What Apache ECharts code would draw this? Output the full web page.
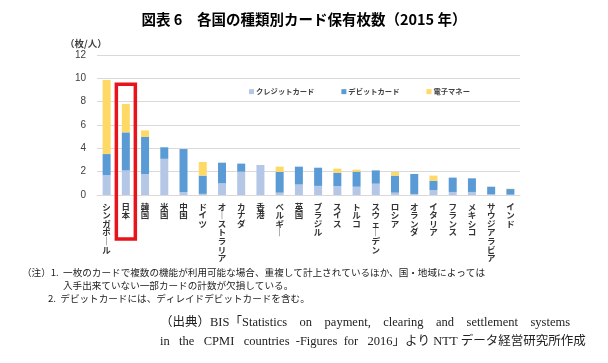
<!DOCTYPE html>
<html><head><meta charset="utf-8">
<script src="https://cdn.jsdelivr.net/npm/echarts@6/dist/echarts.min.js"></script>
<style>html,body{margin:0;padding:0;background:#fff}#c{width:608px;height:363px}</style>
</head><body><div id="c"></div>
<script>
const categories = ['シンガポール','日本','韓国','米国','中国','ドイツ','オーストラリア','カナダ','香港','ベルギー','英国','ブラジル','スイス','トルコ','スウェーデン','ロシア','オランダ','イタリア','フランス','メキシコ','サウジアラビア','インド'];
const credit = [1.7, 2.1, 1.8, 3.1, 0.25, 0.1, 1.0, 2.0, 2.57, 0.2, 0.9, 0.78, 0.76, 0.71, 0.97, 0.2, 0.09, 0.43, 0.26, 0.26, 0.06, 0.03];
const debit  = [1.81, 3.27, 3.17, 0.99, 3.69, 1.56, 1.77, 0.69, 0, 1.77, 1.53, 1.56, 1.15, 1.29, 1.14, 1.46, 1.71, 0.8, 1.23, 1.17, 0.65, 0.48];
const emoney = [6.35, 2.43, 0.57, 0, 0, 1.17, 0, 0, 0, 0.46, 0, 0, 0.35, 0.17, 0, 0.31, 0, 0.43, 0, 0, 0, 0.04];
const seriesNames = ['クレジットカード','デビットカード','電子マネー'];
const yTicks = {min: 0, max: 12, interval: 2};
const highlight = '日本';
const titleText = '図表 6　各国の種類別カード保有枚数（2015 年）';
const unitText = '（枚/人）';
const notes = [
  '（注）1.  一枚のカードで複数の機能が利用可能な場合、重複して計上されているほか、国・地域によっては',
  '入手出来ていない一部カードの計数が欠損している。',
  '2.  デビットカードには、ディレイドデビットカードを含む。',
  '（出典）BIS「Statistics    on    payment,    clearing    and    settlement    systems',
  'in   the   CPMI   countries  -Figures  for   2016」より NTT データ経営研究所作成'
];
const colors = ['#b4c7e7', '#5b9bd5', '#ffd966'];
const jp = '"Noto Sans CJK JP", sans-serif';
const serif = '"Liberation Serif", "Noto Sans CJK JP", serif';

const chart = echarts.init(document.getElementById('c'));
function vert(s){ return s.split('').map(ch => ch === 'ー' ? '｜' : ch).join('\n'); }

const mk = (name, data, i) => ({
  name, type: 'bar', stack: 'total', data, barWidth: 8,
  itemStyle: {color: colors[i]}, emphasis: {disabled: true}
});

function noteGraphics(){
  return [
    {type: 'text', left: 22, top: 268, style: {text: notes[0], font: '9.6px ' + jp, fill: '#222'}},
    {type: 'text', left: 63, top: 281, style: {text: notes[1], font: '9.6px ' + jp, fill: '#222'}},
    {type: 'text', left: 48, top: 294, style: {text: notes[2], font: '9.6px ' + jp, fill: '#222'}},
    {type: 'text', left: 160, top: 316, style: {text: notes[3], font: '12.5px ' + serif, fill: '#222'}},
    {type: 'text', left: 160, top: 335, style: {text: notes[4], font: '12.5px ' + serif, fill: '#222'}}
  ];
}

chart.setOption({
  animation: false,
  title: [
    {text: titleText, left: 'center', top: 7, textStyle: {fontFamily: jp, fontSize: 14.5, fontWeight: 'bold', color: '#000'}},
    {text: unitText, left: 60, top: 34, textStyle: {fontFamily: jp, fontSize: 9.5, fontWeight: 'bold', color: '#404040'}}
  ],
  legend: {
    data: seriesNames, left: 244, top: 83, icon: 'rect', itemWidth: 5, itemHeight: 5, itemGap: 27,
    textStyle: {fontFamily: jp, fontSize: 7.3, fontWeight: 'bold', color: '#404040', padding: [0, 0, 0, -3]}
  },
  grid: {left: 97, right: 88, top: 55, bottom: 168, containLabel: false},
  xAxis: {
    type: 'category', data: categories,
    axisLine: {lineStyle: {color: '#d9d9d9'}}, axisTick: {show: false},
    axisLabel: {interval: 0, formatter: vert, fontFamily: jp, fontSize: 8.5, fontWeight: 'bold', lineHeight: 8.6, color: '#333', margin: 7, verticalAlign: 'top'}
  },
  yAxis: {
    type: 'value', min: yTicks.min, max: yTicks.max, interval: yTicks.interval,
    axisLine: {show: false}, axisTick: {show: false},
    splitLine: {lineStyle: {color: '#d9d9d9'}},
    axisLabel: {fontFamily: 'Liberation Sans, Arial, sans-serif', fontSize: 10, color: '#404040', margin: 11}
  },
  series: [mk(seriesNames[0], credit, 0), mk(seriesNames[1], debit, 1), mk(seriesNames[2], emoney, 2)],
  graphic: noteGraphics()
});

const idx = categories.indexOf(highlight);
const cx = chart.convertToPixel({xAxisIndex: 0}, categories[idx]);
const yTop = chart.convertToPixel({yAxisIndex: 0}, 9.5);
const y0 = chart.convertToPixel({yAxisIndex: 0}, 0);
chart.setOption({
  graphic: noteGraphics().concat([
    {type: 'rect', z: 100, shape: {x: cx - 9.5, y: yTop, width: 19, height: (y0 - yTop) + 44},
     style: {fill: 'none', stroke: '#e8141c', lineWidth: 3.5}}
  ])
}, {replaceMerge: ['graphic']});
</script></body></html>
